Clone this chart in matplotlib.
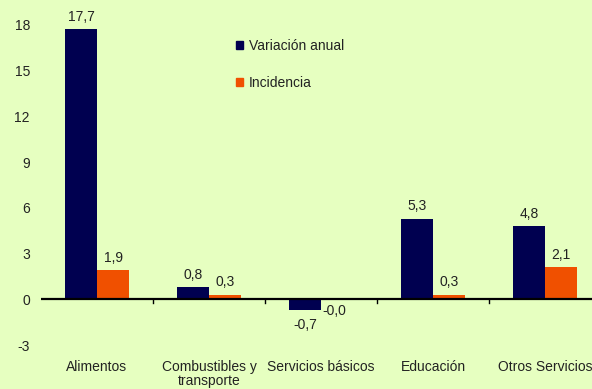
import matplotlib.pyplot as plt
from matplotlib.patches import Patch
import numpy as np

plt.rcParams['font.family'] = ['Liberation Sans', 'DejaVu Sans']

categorias = ["Alimentos", "Combustibles y\ntransporte", "Servicios básicos",
              "Educación", "Otros Servicios"]
variacion_anual = [17.7, 0.8, -0.7, 5.3, 4.8]
incidencia = [1.9, 0.3, -0.02, 0.3, 2.1]
y_ticks = [-3, 0, 3, 6, 9, 12, 15, 18]

fondo = "#E6FFC0"
azul = "#000050"
naranja = "#F05000"
texto = "#222222"

fig = plt.figure(figsize=(5.92, 3.89), dpi=100, facecolor=fondo)
ax = fig.add_axes([0.0693, 0.113, 0.946, 0.823], facecolor=fondo)

x = np.arange(len(categorias))
w = 0.286
b1 = ax.bar(x - w / 2, variacion_anual, w, color=azul)
b2 = ax.bar(x + w / 2, incidencia, w, color=naranja)


def etiqueta(v):
    return f"{v:.1f}".replace(".", ",")


for barras, vals in ((b1, variacion_anual), (b2, incidencia)):
    for r, v in zip(barras, vals):
        cx = r.get_x() + r.get_width() / 2
        if v >= 0:
            ax.annotate(etiqueta(v), (cx, v), xytext=(0, 4), textcoords="offset points",
                        ha="center", va="bottom", fontsize=10, color=texto)
        elif abs(v) < 0.05:
            ax.annotate(etiqueta(v), (cx, v), xytext=(-2, -3), textcoords="offset points",
                        ha="center", va="top", fontsize=10, color=texto)
        else:
            ax.annotate(etiqueta(v), (cx, v), xytext=(0, -6), textcoords="offset points",
                        ha="center", va="top", fontsize=10, color=texto)

ax.set_xlim(-0.5, len(categorias) - 0.5)
ax.set_ylim(-3, 18)
ax.set_yticks(y_ticks)
ax.set_yticklabels([str(t) for t in y_ticks], fontsize=10, color=texto)
ax.tick_params(axis="y", length=0, pad=8)

for s in ax.spines.values():
    s.set_visible(False)

# zero line with small tick marks between categories
ax.axhline(0, color="black", lw=1.6, zorder=3)
ax.set_xticks([])
for b in np.arange(0.5, len(categorias) - 0.5, 1):
    ax.plot([b, b], [0, -0.25], color="black", lw=1, zorder=3, clip_on=False)

# category names below the plot
for xi, nombre in zip(x, categorias):
    ax.text(xi, -3.95, nombre, ha="center", va="top", fontsize=10, color=texto,
            linespacing=1.05)

ax.legend(handles=[Patch(color=azul, label="Variación anual"),
                   Patch(color=naranja, label="Incidencia")],
          loc="upper left", bbox_to_anchor=(0.325, 0.995), frameon=False,
          fontsize=10, handlelength=0.55, handleheight=0.55, handletextpad=0.4,
          labelspacing=1.65, labelcolor=texto)

fig.savefig("out.png", dpi=100, facecolor=fondo)
